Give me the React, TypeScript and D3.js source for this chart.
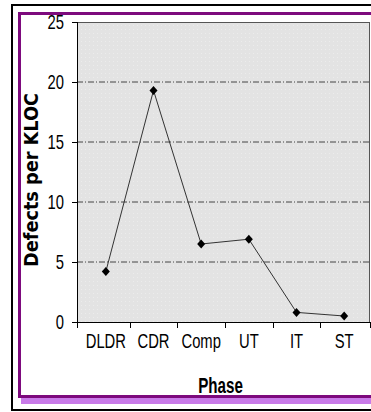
import React from "react";
import * as d3 from "d3";

const phases = ["DLDR", "CDR", "Comp", "UT", "IT", "ST"];
const defects = [4.2, 19.3, 6.5, 6.9, 0.8, 0.5];
const yTicks = [0, 5, 10, 15, 20, 25];

const W = 371;
const H = 412;
const plotL = 77;
const plotR = 370;
const plotT = 22;
const plotB = 322;

export default function App() {
  const x = d3.scaleBand<string>().domain(phases).range([82, 368]);
  const y = d3.scaleLinear().domain([0, 25]).range([plotB, plotT]);
  const line = d3
    .line<number>()
    .x((_, i) => (x(phases[i]) as number) + x.bandwidth() / 2)
    .y((d) => y(d));
  const tickFont = "'Liberation Sans', Arial, sans-serif";
  const boundaries = [plotL, ...phases.slice(1).map((p) => x(p) as number), plotR];

  return (
    <svg
      width={W}
      height={H}
      style={{ position: "absolute", left: 0, top: 0, background: "#fff" }}
    >
      <defs>
        <pattern id="dots" width="4" height="4" patternUnits="userSpaceOnUse">
          <rect width="4" height="4" fill="#e3e3e3" />
          <rect x="1" y="1" width="1" height="1" fill="#ececec" />
        </pattern>
      </defs>
      {/* outer frames */}
      <rect x={12} y={5} width={380} height={405} fill="none" stroke="#000" strokeWidth={2} />
      <rect x={21} y={398} width={360} height={6} fill="#c97be9" />
      <rect x={19.5} y={13.5} width={370} height={383} fill="none" stroke="#7d0a7d" strokeWidth={3} />

      {/* plot area */}
      <rect x={plotL} y={plotT} width={plotR - plotL} height={plotB - plotT} fill="url(#dots)" />
      {yTicks
        .filter((t) => t > 0 && t < 25)
        .map((t) => (
          <line
            key={"g" + t}
            x1={plotL}
            x2={plotR}
            y1={y(t)}
            y2={y(t)}
            stroke="#444"
            strokeWidth={1}
            strokeDasharray="6,2,1,2"
          />
        ))}
      <line x1={plotL} x2={plotR} y1={plotT + 0.5} y2={plotT + 0.5} stroke="#555" strokeWidth={1} />
      <line x1={plotR - 0.5} x2={plotR - 0.5} y1={plotT} y2={plotB} stroke="#555" strokeWidth={1} />
      <line x1={plotL + 0.5} x2={plotL + 0.5} y1={plotT} y2={plotB} stroke="#000" strokeWidth={1} />
      <line x1={plotL} x2={plotR} y1={plotB + 0.5} y2={plotB + 0.5} stroke="#000" strokeWidth={1} />

      {/* y ticks */}
      {yTicks.map((t) => (
        <g key={"y" + t}>
          <line x1={72} x2={plotL} y1={Math.round(y(t)) + 0.5} y2={Math.round(y(t)) + 0.5} stroke="#000" />
          <text
            transform={`translate(64,${y(t) + 7}) scale(0.74,1)`}
            textAnchor="end"
            fontFamily={tickFont}
            fontSize={20}
            fill="#000"
          >
            {t}
          </text>
        </g>
      ))}

      {/* x ticks */}
      {boundaries.map((b, i) => (
        <line key={"xt" + i} x1={Math.round(b) + 0.5} x2={Math.round(b) + 0.5} y1={plotB} y2={328} stroke="#000" />
      ))}
      {phases.map((p) => (
        <text
          key={"xl" + p}
          transform={`translate(${(x(p) as number) + x.bandwidth() / 2},348) scale(0.74,1)`}
          textAnchor="middle"
          fontFamily={tickFont}
          fontSize={20}
          fill="#000"
        >
          {p}
        </text>
      ))}

      {/* series */}
      <path d={line(defects) || ""} fill="none" stroke="#333" strokeWidth={1} />
      {defects.map((d, i) => {
        const cx = (x(phases[i]) as number) + x.bandwidth() / 2;
        const cy = y(d);
        return (
          <path
            key={"m" + i}
            d={`M${cx},${cy - 4.5}L${cx + 4},${cy}L${cx},${cy + 4.5}L${cx - 4},${cy}Z`}
            fill="#000"
          />
        );
      })}

      {/* axis titles */}
      <text
        transform="translate(220.5,393) scale(0.69,1)"
        textAnchor="middle"
        fontFamily={tickFont}
        fontWeight="bold"
        fontSize={22}
        fill="#000"
      >
        Phase
      </text>
      <text
        transform="translate(38,180) rotate(-90)"
        textAnchor="middle"
        fontFamily="'DejaVu Sans', sans-serif"
        fontWeight="bold"
        fontSize={19}
        textLength={174}
        lengthAdjust="spacingAndGlyphs"
        fill="#000"
      >
        Defects per KLOC
      </text>
    </svg>
  );
}
